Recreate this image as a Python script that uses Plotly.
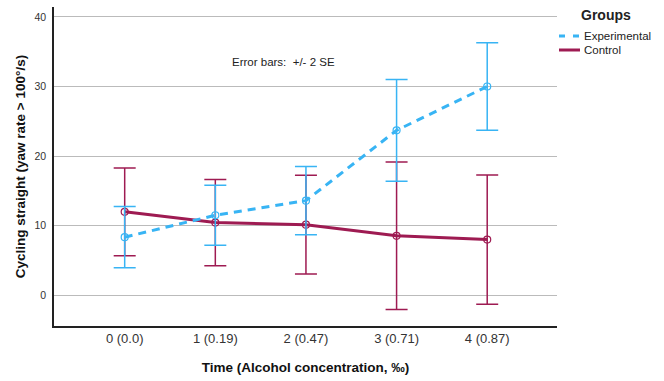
import plotly.graph_objects as go

# Measurement occasions and their labels
time_points = [0, 1, 2, 3, 4]
tick_labels = ["0 (0.0)", "1 (0.19)", "2 (0.47)", "3 (0.71)", "4 (0.87)"]

# Group means and error-bar half-widths (2 SE)
exp_mean = [8.35, 11.5, 13.6, 23.7, 30.0]
exp_2se = [4.4, 4.3, 4.9, 7.3, 6.3]
ctrl_mean = [12.0, 10.45, 10.15, 8.55, 8.0]
ctrl_2se = [6.3, 6.2, 7.1, 10.6, 9.3]

groups = ["Experimental", "Control"]

EXP_COLOR = "#38B4F4"
CTRL_COLOR = "#9E1B52"
FONT = "Liberation Sans, Arial, sans-serif"
TEXT = "#222222"

W, H = 664, 381
M_L, M_R, M_T, M_B = 54, 107, 7, 55
PW, PH = W - M_L - M_R, H - M_T - M_B


def px_to_paper(px, py):
    """Convert a pixel position in the page to paper coordinates."""
    return (px - M_L) / PW, (H - M_B - py) / PH


fig = go.Figure()

fig.add_trace(go.Scatter(
    x=time_points, y=ctrl_mean, mode="lines+markers", name=groups[1],
    line=dict(color=CTRL_COLOR, width=3),
    marker=dict(symbol="circle-open", size=7, color=CTRL_COLOR, line=dict(width=1.2)),
    error_y=dict(type="data", array=ctrl_2se, visible=True, color=CTRL_COLOR,
                 thickness=1.5, width=11),
    showlegend=False,
))
fig.add_trace(go.Scatter(
    x=time_points, y=exp_mean, mode="lines+markers", name=groups[0],
    line=dict(color=EXP_COLOR, width=3, dash="8px,6px"),
    marker=dict(symbol="circle-open", size=7, color=EXP_COLOR, line=dict(width=1.2)),
    error_y=dict(type="data", array=exp_2se, visible=True, color=EXP_COLOR,
                 thickness=1.5, width=11),
    showlegend=False,
))

# Legend block drawn at the right of the plot area
shapes = []
annotations = []
tx, ty = px_to_paper(606, 15)
annotations.append(dict(text="<b>Groups</b>", xref="paper", yref="paper", x=tx, y=ty,
                        showarrow=False, xanchor="center", yanchor="middle",
                        font=dict(family=FONT, size=14, color=TEXT)))
legend_rows = [(groups[0], EXP_COLOR, "6px,8px", 36), (groups[1], CTRL_COLOR, "solid", 50)]
for name, color, dash, row_y in legend_rows:
    x0, y0 = px_to_paper(559, row_y)
    x1, _ = px_to_paper(580, row_y)
    shapes.append(dict(type="line", xref="paper", yref="paper", x0=x0, x1=x1, y0=y0, y1=y0,
                       line=dict(color=color, width=3, dash=dash)))
    lx, _ = px_to_paper(582, row_y)
    annotations.append(dict(text=name, xref="paper", yref="paper", x=lx, y=y0,
                            showarrow=False, xanchor="left", yanchor="middle",
                            font=dict(family=FONT, size=11.5, color=TEXT)))

annotations.append(dict(
    text="Error bars:  +/- 2 SE", xref="x", yref="y", x=1.75, y=33.5,
    showarrow=False, font=dict(family=FONT, size=11.5, color=TEXT),
))

fig.update_layout(
    width=W, height=H,
    margin=dict(l=M_L, r=M_R, t=M_T, b=M_B, autoexpand=False),
    paper_bgcolor="white", plot_bgcolor="white",
    font=dict(family=FONT, color=TEXT),
    showlegend=False,
    shapes=shapes,
    annotations=annotations,
    xaxis=dict(
        range=[-0.78, 4.77], tickmode="array", tickvals=time_points, ticktext=tick_labels,
        showgrid=False, zeroline=False, showline=True, linecolor="#222222", linewidth=1.5,
        ticks="", tickfont=dict(size=13, color="#333333"),
        title=dict(text="<b>Time (Alcohol concentration, ‰)</b>",
                   font=dict(size=13.5, color="#111111"), standoff=17),
    ),
    yaxis=dict(
        range=[-4.41, 41.42], tickmode="array", tickvals=[0, 10, 20, 30, 40],
        showgrid=True, gridcolor="#BBBBBB", gridwidth=1, zeroline=False,
        showline=True, linecolor="#222222", linewidth=1.5,
        ticks="", tickfont=dict(size=10.5, color="#333333"), ticklabelstandoff=4,
        title=dict(text="<b>Cycling straight (yaw rate &gt; 100°/s)</b>",
                   font=dict(size=13.5, color="#111111"), standoff=6),
    ),
)

fig.write_html("out.html")
